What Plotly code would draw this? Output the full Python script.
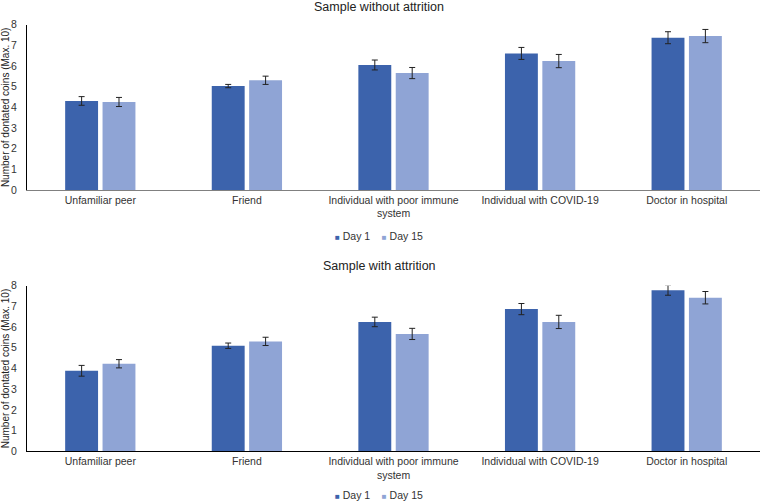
import plotly.graph_objects as go

categories = ["Unfamiliar peer", "Friend", "Individual with poor immune<br>system",
              "Individual with COVID-19", "Doctor in hospital"]

# Sample without attrition
top_day1 = [4.31, 5.03, 6.05, 6.61, 7.37]
top_day1_err = [0.21, 0.08, 0.24, 0.29, 0.29]
top_day15 = [4.26, 5.31, 5.66, 6.24, 7.45]
top_day15_err = [0.22, 0.20, 0.27, 0.32, 0.32]

# Sample with attrition
bot_day1 = [3.89, 5.10, 6.25, 6.87, 7.78]
bot_day1_err = [0.26, 0.13, 0.23, 0.27, 0.24]
bot_day15 = [4.23, 5.31, 5.67, 6.25, 7.42]
bot_day15_err = [0.20, 0.20, 0.27, 0.32, 0.30]

titles = ["Sample without attrition", "Sample with attrition"]
series_names = ["Day 1", "Day 15"]
colors = ["#3C63AC", "#8FA4D5"]
ytitle = "Number of dontated coins (Max. 10)"

FONT = "Liberation Sans, Arial, sans-serif"

fig = go.Figure()

def add(y, err, name, color, xaxis, yaxis):
    fig.add_trace(go.Bar(
        x=categories, y=y, name=name, marker=dict(color=color, line=dict(width=0)),
        error_y=dict(type="data", array=err, color="#222222", thickness=1, width=3),
        xaxis=xaxis, yaxis=yaxis, showlegend=False,
    ))

add(top_day1, top_day1_err, series_names[0], colors[0], "x", "y")
add(top_day15, top_day15_err, series_names[1], colors[1], "x", "y")
add(bot_day1, bot_day1_err, series_names[0], colors[0], "x2", "y2")
add(bot_day15, bot_day15_err, series_names[1], colors[1], "x2", "y2")

W = 760.0
H = 502.0
def py(p):
    return (H - p) / H
def px(p):
    return p / W

top_dom = [py(190), py(24.7)]
bot_dom = [py(451.3), py(285.7)]
x_dom = [px(27), 1.0]

yax = dict(range=[0, 8], dtick=1, showgrid=False, zeroline=False, showline=True,
           linecolor="#000000", linewidth=1, ticks="", automargin=False,
           ticklabelstandoff=7,
           tickfont=dict(size=10.5, color="#333333"),
           title=dict(text=ytitle, font=dict(size=10, color="#222222"), standoff=0))
xax = dict(showgrid=False, zeroline=False, showline=True, linewidth=1, ticks="",
           automargin=False, tickfont=dict(size=10.5, color="#333333"), tickangle=0)

# compact legend (small squares directly before the labels, as in the original)
NBSP = "\u00a0"
legend_text = (NBSP * 4).join(
    f"<span style='color:{c};font-size:8px'>■</span>{NBSP}{n}" for n, c in zip(series_names, colors)
)

annotations = [
    dict(text=titles[0], x=px(379), xref="paper", y=py(7), yref="paper", xanchor="center",
         yanchor="middle", showarrow=False, font=dict(size=12.5, color="#222222")),
    dict(text=titles[1], x=px(379), xref="paper", y=py(266), yref="paper", xanchor="center",
         yanchor="middle", showarrow=False, font=dict(size=12.5, color="#222222")),
    dict(text=legend_text, x=px(379), xref="paper", y=py(236), yref="paper", xanchor="center",
         yanchor="middle", showarrow=False, font=dict(size=10.5, color="#333333")),
    dict(text=legend_text, x=px(379), xref="paper", y=py(495), yref="paper", xanchor="center",
         yanchor="middle", showarrow=False, font=dict(size=10.5, color="#333333")),
]

fig.update_layout(
    width=760, height=502,
    margin=dict(l=0, r=0, t=0, b=0, autoexpand=False),
    paper_bgcolor="white", plot_bgcolor="white",
    font=dict(family=FONT, color="#222222"),
    barmode="group", bargap=0.49, bargroupgap=0.12,
    xaxis=dict(domain=x_dom, anchor="y", linecolor="#808080", **xax),
    yaxis=dict(domain=top_dom, anchor="x", **yax),
    xaxis2=dict(domain=x_dom, anchor="y2", linecolor="#000000", **xax),
    yaxis2=dict(domain=bot_dom, anchor="x2", **yax),
    showlegend=False,
    annotations=annotations,
)

fig.write_html("out.html",
               config={"displayModeBar": False},
               post_script="document.body.style.margin='0';document.body.style.overflow='hidden';")
